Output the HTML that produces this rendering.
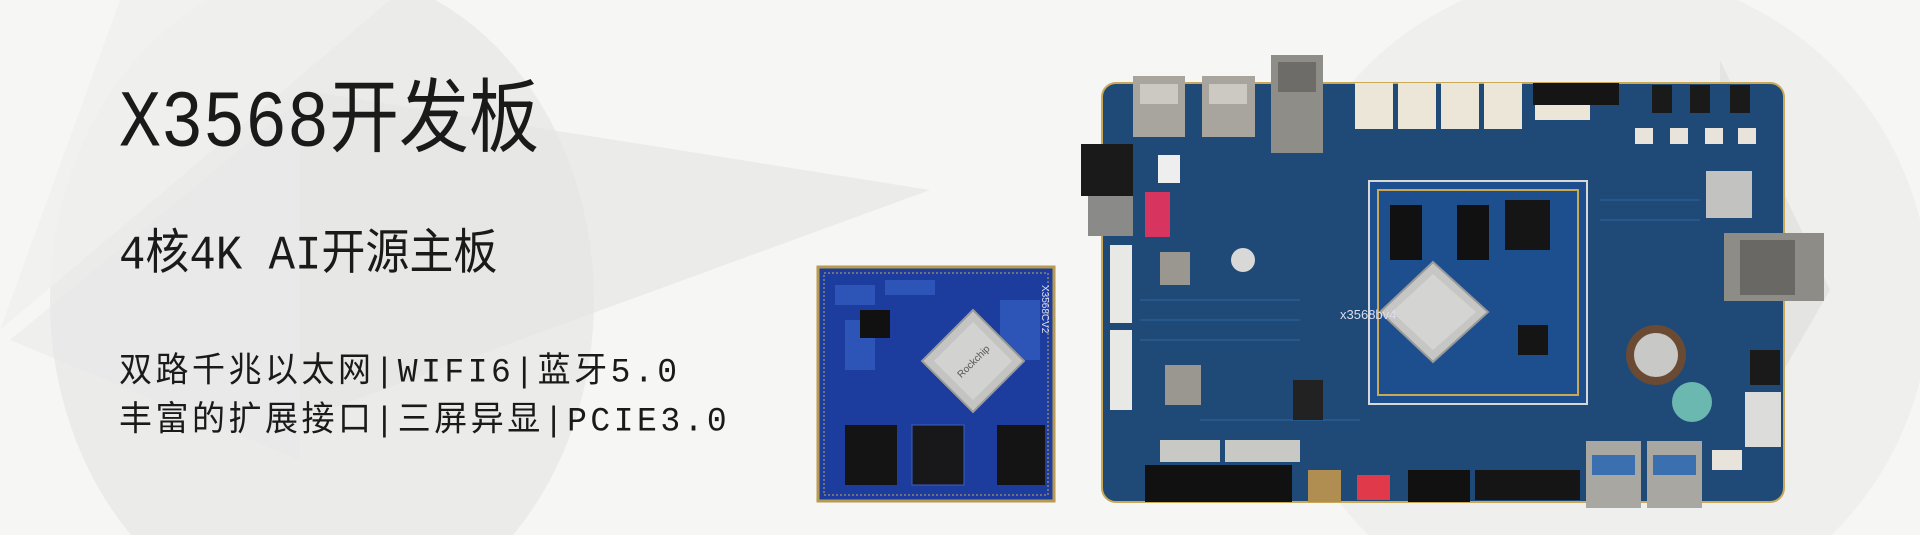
<!DOCTYPE html>
<html><head><meta charset="utf-8"><style>
html,body{margin:0;padding:0;width:1920px;height:535px;overflow:hidden}
body{background:#f6f6f4;position:relative}
svg{position:absolute;left:0;top:0}
.t{position:absolute;font-family:"Liberation Mono","Noto Sans CJK SC",monospace;color:#1a1a1a;white-space:nowrap;transform-origin:0 0}
</style></head><body>
<svg width="1920" height="535" viewBox="0 0 1920 535">
<rect width="1920" height="535" fill="#f6f6f4"/>
<ellipse cx="322" cy="300" rx="272" ry="330" fill="#ebebea"/>
<polygon points="0,330 390,0 120,0" fill="#f0f0ef" opacity="0.8"/>
<polygon points="300,90 930,190 300,420" fill="#e4e4e3" opacity="0.6"/>
<polygon points="10,340 300,100 300,460" fill="#e8e8e7" opacity="0.5"/>
<ellipse cx="1600" cy="300" rx="330" ry="330" fill="#efefee"/>
<polygon points="1720,60 1830,290 1720,480" fill="#e4e4e3"/>

<rect x="818" y="267" width="236" height="234" fill="#1c3d9e" stroke="#b89a50" stroke-width="3"/>
<rect x="824" y="273" width="224" height="222" fill="none" stroke="#c9a757" stroke-width="1" stroke-dasharray="2 2"/>
<g fill="#2d55b8">
<rect x="835" y="285" width="40" height="20"/><rect x="885" y="280" width="50" height="15"/><rect x="845" y="320" width="30" height="50"/><rect x="1000" y="300" width="40" height="60"/>
</g>
<rect x="860" y="310" width="30" height="28" fill="#111"/>
<polygon points="973,310 1024,361 973,412 922,361" fill="#c4c4c2" stroke="#9a9a98" stroke-width="2"/>
<polygon points="973,322 1012,361 973,400 934,361" fill="#d2d2d0"/>
<text x="973" y="365" font-family="Liberation Sans" font-size="10" fill="#555" text-anchor="middle" transform="rotate(-45 973 361)">Rockchip</text>
<rect x="845" y="425" width="52" height="60" fill="#141414"/>
<rect x="912" y="425" width="52" height="60" fill="#18181a" stroke="#3a5fc0"/>
<rect x="997" y="425" width="48" height="60" fill="#141414"/>
<text x="1042" y="285" font-family="Liberation Sans" font-size="10" fill="#dde" transform="rotate(90 1042 285)">X3568CV2</text>

<rect x="1102" y="83" width="682" height="419" rx="14" fill="#1f4a78"/>
<rect x="1102" y="83" width="682" height="419" rx="14" fill="none" stroke="#c9a957" stroke-width="2"/>
<g stroke="#275889" stroke-width="2" fill="none">
<path d="M1140,300 L1300,300 M1140,320 L1300,320 M1140,340 L1300,340 M1600,200 L1700,200 M1600,220 L1700,220 M1200,420 L1360,420"/>
</g>
<rect x="1369" y="181" width="218" height="223" fill="#1d4f8e" stroke="#d8d8d8" stroke-width="2"/>
<rect x="1378" y="190" width="200" height="205" fill="none" stroke="#c9a957" stroke-width="2"/>
<rect x="1390" y="205" width="32" height="55" fill="#111"/>
<rect x="1457" y="205" width="32" height="55" fill="#111"/>
<rect x="1505" y="200" width="45" height="50" fill="#151515"/>
<rect x="1518" y="325" width="30" height="30" fill="#151515"/>
<polygon points="1433,262 1488,312 1433,362 1380,312" fill="#c6c6c4" stroke="#999" stroke-width="2"/>
<polygon points="1433,274 1476,312 1433,350 1392,312" fill="#d4d4d2"/>
<rect x="1133" y="76" width="52" height="61" fill="#a8a59e"/><rect x="1140" y="84" width="38" height="20" fill="#ccc9c2"/>
<rect x="1202" y="76" width="53" height="61" fill="#a8a59e"/><rect x="1209" y="84" width="38" height="20" fill="#ccc9c2"/>
<rect x="1271" y="55" width="52" height="98" fill="#8f8d88"/><rect x="1278" y="62" width="38" height="30" fill="#6e6c68"/>
<g fill="#ece6d8"><rect x="1355" y="83" width="38" height="46"/><rect x="1398" y="83" width="38" height="46"/><rect x="1441" y="83" width="38" height="46"/><rect x="1484" y="83" width="38" height="46"/><rect x="1535" y="100" width="55" height="20"/></g>
<rect x="1533" y="83" width="86" height="22" fill="#151515"/>
<g fill="#1a1a1a"><rect x="1652" y="85" width="20" height="28"/><rect x="1690" y="85" width="20" height="28"/><rect x="1730" y="85" width="20" height="28"/></g>
<g fill="#e8e4dc"><rect x="1635" y="128" width="18" height="16"/><rect x="1670" y="128" width="18" height="16"/><rect x="1705" y="128" width="18" height="16"/><rect x="1738" y="128" width="18" height="16"/></g>
<rect x="1081" y="144" width="52" height="52" fill="#1a1a1a"/>
<rect x="1088" y="196" width="45" height="40" fill="#8a8a88"/>
<rect x="1145" y="192" width="25" height="45" fill="#d83460"/>
<rect x="1158" y="155" width="22" height="28" fill="#eee"/>
<rect x="1110" y="245" width="22" height="78" fill="#e8e8e4"/><rect x="1110" y="330" width="22" height="80" fill="#e8e8e4"/>
<rect x="1160" y="252" width="30" height="33" fill="#9a9690"/><circle cx="1243" cy="260" r="12" fill="#d8d8d6"/>
<rect x="1165" y="365" width="36" height="40" fill="#9a9690"/>
<rect x="1293" y="380" width="30" height="40" fill="#222"/>
<rect x="1706" y="171" width="46" height="47" fill="#c2c2c0"/>
<rect x="1724" y="233" width="100" height="68" fill="#8e8c86"/><rect x="1740" y="240" width="55" height="55" fill="#6a6864"/>
<circle cx="1656" cy="355" r="30" fill="#6a4a33"/><circle cx="1656" cy="355" r="22" fill="#c8c8c6"/>
<circle cx="1692" cy="402" r="20" fill="#6ab8b0"/>
<rect x="1745" y="392" width="36" height="55" fill="#dcdcda"/>
<rect x="1750" y="350" width="30" height="35" fill="#1a1a1a"/>
<g fill="#c8c8c4"><rect x="1160" y="440" width="60" height="22"/><rect x="1225" y="440" width="75" height="22"/></g>
<rect x="1145" y="465" width="147" height="37" fill="#111"/>
<rect x="1308" y="470" width="33" height="32" fill="#b08d50"/>
<rect x="1357" y="475" width="33" height="25" fill="#e03a4a"/>
<rect x="1408" y="470" width="62" height="32" fill="#111"/>
<rect x="1475" y="470" width="105" height="30" fill="#151515"/>
<rect x="1586" y="441" width="55" height="67" fill="#a9a7a2"/><rect x="1592" y="455" width="43" height="20" fill="#3a6fb0"/>
<rect x="1647" y="441" width="55" height="67" fill="#a9a7a2"/><rect x="1653" y="455" width="43" height="20" fill="#3a6fb0"/>
<rect x="1712" y="450" width="30" height="20" fill="#e8e4dc"/>
<text x="1340" y="319" font-family="Liberation Sans" font-size="13" fill="#dde">x3568bv4</text>
</svg>
<div class="t" style="left:119px;top:80px;font-size:70px;line-height:80px;transform:scale(1,1.15)">X3568开发板</div>
<div class="t" style="left:119px;top:229px;font-size:44px;line-height:50px;transform:scale(1,1.1)">4核4K  AI开源主板</div>
<div class="t" style="left:119px;top:353px;font-size:33px;line-height:38px;letter-spacing:3.5px;transform:scale(1,1.05)">双路千兆以太网|WIFI6|蓝牙5.0</div>
<div class="t" style="left:119px;top:402px;font-size:33px;line-height:38px;letter-spacing:3.5px;transform:scale(1,1.05)">丰富的扩展接口|三屏异显|PCIE3.0</div>
</body></html>
